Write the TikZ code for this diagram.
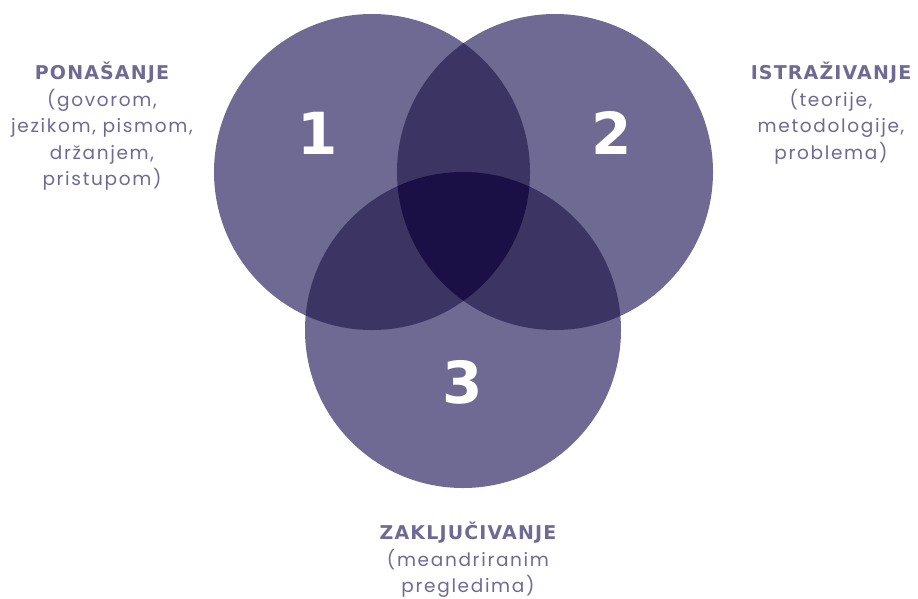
\documentclass[tikz,border=0pt]{standalone}
\usepackage{fontspec}
\setmainfont[LetterSpace=9]{Poppins}
\newfontfamily\headfont[LetterSpace=6]{DejaVu Sans}
\newfontfamily\numfont{DejaVu Sans}
\definecolor{oneC}{HTML}{6E6A93}
\definecolor{twoC}{HTML}{3C3563}
\definecolor{threeC}{HTML}{1A1046}
\definecolor{txtC}{HTML}{6E6A93}
\begin{document}
\begin{tikzpicture}[x=1pt,y=-1pt,
  label/.style={align=center,text=txtC,font=\fontsize{18.5}{26.5}\selectfont,inner sep=0pt},
  num/.style={text=white,font=\numfont\bfseries\fontsize{58}{58}\selectfont,inner sep=0pt}]
\useasboundingbox (0,0) rectangle (918,598);
\def\r{158}
\coordinate (c1) at (372,172);
\coordinate (c2) at (555,172);
\coordinate (c3) at (463,330);
\fill[oneC] (c1) circle (\r);
\fill[oneC] (c2) circle (\r);
\fill[oneC] (c3) circle (\r);
\begin{scope}
  \clip (c1) circle (\r);
  \fill[twoC] (c2) circle (\r);
  \fill[twoC] (c3) circle (\r);
\end{scope}
\begin{scope}
  \clip (c2) circle (\r);
  \fill[twoC] (c3) circle (\r);
\end{scope}
\begin{scope}
  \clip (c1) circle (\r);
  \clip (c2) circle (\r);
  \fill[threeC] (c3) circle (\r);
\end{scope}
\node[num] (n1) at (318,133) {1};
\node[num] (n2) at (612,133) {2};
\node[num] (n3) at (463,382) {3};
\node[label,anchor=north] (t1) at (102,62) {{\headfont\bfseries\fontsize{19}{26.5}\selectfont PONAŠANJE}\\(govorom,\\jezikom, pismom,\\držanjem,\\pristupom)};
\node[label,anchor=north] (t2) at (831,62) {{\headfont\bfseries\fontsize{19}{26.5}\selectfont ISTRAŽIVANJE}\\(teorije,\\metodologije,\\problema)};
\node[label,anchor=north] (t3) at (468,522) {{\headfont\bfseries\fontsize{19}{26.5}\selectfont ZAKLJUČIVANJE}\\(meandriranim\\pregledima)};
\end{tikzpicture}
\end{document}
